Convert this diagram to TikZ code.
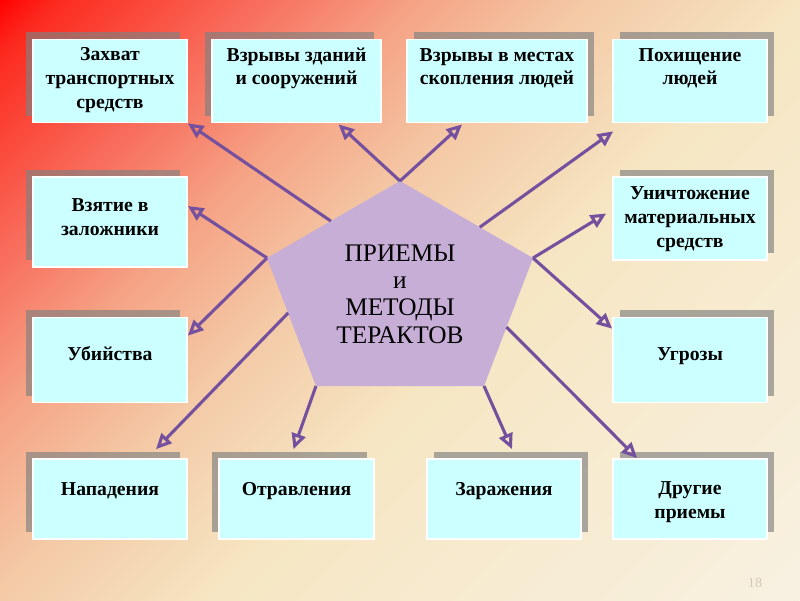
\documentclass[tikz,border=0pt]{standalone}
\usepackage{fontspec}
\setmainfont{Liberation Serif}
\usetikzlibrary{arrows.meta, calc, shadows}
\definecolor{bgRed}{HTML}{FF0000}
\definecolor{bgHot}{HTML}{FC2A1E}
\definecolor{bgSalmon}{HTML}{F86F5E}
\definecolor{bgPeach}{HTML}{F5A486}
\definecolor{bgSand}{HTML}{F4C9A6}
\definecolor{bgCream}{HTML}{F6E6C3}
\definecolor{bgPale}{HTML}{F8F1E2}
\definecolor{boxCyan}{HTML}{CCFFFF}
\definecolor{pentaLilac}{HTML}{C6AED6}
\definecolor{linePurple}{HTML}{74509E}
\definecolor{numGray}{HTML}{D6CABA}
\pgfdeclarehorizontalshading{slidebg}{100bp}{color(0bp)=(bgRed); color(25bp)=(bgRed); color(27bp)=(bgHot); color(34.5bp)=(bgSalmon); color(40bp)=(bgPeach); color(46bp)=(bgSand); color(54bp)=(bgCream); color(75bp)=(bgPale); color(100bp)=(bgPale)}

\begin{document}
\begin{tikzpicture}[
x=0.025cm, y=-0.025cm,
box/.style={rectangle, draw=white, line width=1.2pt, fill=boxCyan, align=center, font=\fontsize{14}{16.8}\selectfont\bfseries, text height=10pt, minimum width=3.85cm},
lbox/.style={box, general shadow={fill=gray, opacity=0.65, shadow xshift=-0.175cm, shadow yshift=0.175cm}},
rbox/.style={box, general shadow={fill=gray, opacity=0.65, shadow xshift=0.175cm, shadow yshift=0.175cm}},
arrow/.style={-{Triangle[open, length=11pt, width=10pt]}, line width=2.2pt, linePurple}
]

\useasboundingbox (0,0) rectangle (800,600);
\begin{scope}
\clip (0,0) rectangle (800,600);
\begin{scope}[transform canvas={rotate=-45}]
\shade[shading=slidebg] (0,-600) rectangle (990,600);
\end{scope}
\end{scope}

\node[lbox, minimum height=2.075cm, text height=1.46cm, text depth=0.1cm] (seize) at (110,81) {Захват\\транспортных\\средств};
\node[lbox, minimum width=4.225cm, minimum height=2.075cm, text depth=0.17cm] (bldg) at (296.5,81) {Взрывы зданий\\и сооружений};
\node[rbox, minimum width=4.5cm, minimum height=2.075cm, text depth=0.17cm] (crowd) at (497,81) {Взрывы в местах\\скопления людей};
\node[rbox, minimum height=2.075cm, text depth=0.17cm] (kidnap) at (690,81) {Похищение\\людей};

\node[lbox, minimum height=2.25cm, text height=0.78cm, text depth=0.1cm] (hostage) at (110,222) {Взятие в\\заложники};
\node[rbox, minimum height=2.075cm, text height=1.535cm, text depth=0.1cm] (damage) at (690,218.5) {Уничтожение\\материальных\\средств};

\node[lbox, minimum height=2.125cm, text depth=0.35cm] (murder) at (110,360) {Убийства};
\node[rbox, minimum height=2.125cm, text depth=0.35cm] (threat) at (690,360) {Угрозы};

\node[lbox, minimum height=2cm, text depth=0.55cm] (assault) at (110,499) {Нападения};
\node[lbox, minimum width=3.875cm, minimum height=2cm, text depth=0.55cm] (poison) at (296.5,499) {Отравления};
\node[rbox, minimum height=2cm, text depth=0.55cm] (infect) at (504,499) {Заражения};
\node[rbox, minimum height=2cm, text height=1.08cm, text depth=0.1cm] (other) at (690,499) {Другие\\приемы};

\coordinate (pT) at (400,181);
\coordinate (pR) at (533,258);
\coordinate (pBR) at (484,386);
\coordinate (pBL) at (316,386);
\coordinate (pL) at (267,258);
\fill[pentaLilac] (pT) -- (pR) -- (pBR) -- (pBL) -- (pL) -- cycle;
\node[font=\fontsize{18}{19.5}\selectfont, align=center] (core) at (400,294) {ПРИЕМЫ\\и\\МЕТОДЫ\\ТЕРАКТОВ};

\coordinate (sTL) at ($(pT)!0.52!(pL)$);
\coordinate (sTR) at ($(pT)!0.6!(pR)$);
\coordinate (sLB) at ($(pL)!0.43!(pBL)$);
\coordinate (sRB) at ($(pR)!0.54!(pBR)$);

\draw[arrow] (sTL) -- (seize.south east);
\draw[arrow] (pT) -- ($(bldg.south)+(42,1)$);
\draw[arrow] (pT) -- ($(crowd.south)+(-35,1)$);
\draw[arrow] (sTR) -- ($(kidnap.south west)+(1,8)$);
\draw[arrow] (pL) -- ($(hostage.east)+(0,-16)$);
\draw[arrow] (pR) -- ($(damage.west)+(-6,-5)$);
\draw[arrow] (pL) -- ($(murder.north east)+(0,19)$);
\draw[arrow] (pR) -- ($(threat.north west)+(0,12)$);
\draw[arrow] (sLB) -- ($(assault.north)+(46,-9)$);
\draw[arrow] (pBL) -- ($(poison.north)+(-3,-9)$);
\draw[arrow] (pBR) -- ($(infect.north)+(8,-9)$);
\draw[arrow] (sRB) -- ($(other.north west)+(25,0)$);

\node[numGray, font=\fontsize{10}{12}\selectfont] (pgnum) at (755,583) {18};
\end{tikzpicture}
\end{document}
